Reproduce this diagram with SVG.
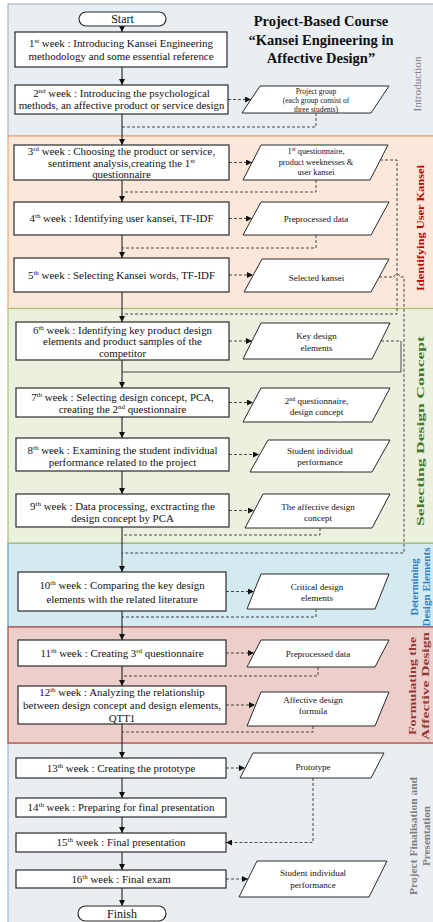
<svg xmlns="http://www.w3.org/2000/svg" width="433" height="922" viewBox="0 0 433 922">
<style>
.box{fill:#fff;stroke:#2a2a2a;stroke-width:1.2}
.par{fill:#fff;stroke:#2a2a2a;stroke-width:1}
.t{font-family:"Liberation Serif","Times New Roman",serif;font-size:10.9px;fill:#111;text-anchor:middle}
.p{font-family:"Liberation Serif","Times New Roman",serif;font-size:9px;fill:#111;text-anchor:middle}
.ps{font-family:"Liberation Serif","Times New Roman",serif;font-size:7.5px;fill:#111;text-anchor:middle}
.pm{font-family:"Liberation Serif","Times New Roman",serif;font-size:8.3px;fill:#111;text-anchor:middle}
.term{font-family:"Liberation Serif","Times New Roman",serif;font-size:12px;fill:#111;text-anchor:middle}
.title{font-family:"Liberation Serif","Times New Roman",serif;font-size:14.5px;font-weight:bold;fill:#111;text-anchor:middle}
.lab{font-family:"Liberation Serif","Times New Roman",serif;font-size:10.5px;font-weight:bold;text-anchor:middle}
.main{stroke:#111;stroke-width:1;fill:none}
.dash{stroke:#222;stroke-width:0.8;fill:none;stroke-dasharray:3,2}
.thin{stroke:#222;stroke-width:0.8;fill:none}
</style>
<defs>
<marker id="ah" viewBox="0 0 10 10" refX="10" refY="5" markerWidth="6" markerHeight="6" markerUnits="userSpaceOnUse" orient="auto"><path d="M0,0 L10,5 L0,10 z" fill="#111"/></marker>
</defs>

<g id="sections">
<rect id="sec-intro" x="8" y="4" width="440" height="132" fill="#e9eef3" stroke="#aab4be" stroke-width="1.2"/>
<rect id="sec-final" x="8" y="743" width="440" height="190" fill="#eaeef3" stroke="#98b7db" stroke-width="1.2"/>
<rect id="sec-determ" x="8" y="543" width="440" height="84" fill="#d3eaf1" stroke="#5b9bd5" stroke-width="1.2"/>
<rect id="sec-kansei" x="8" y="136" width="440" height="172.5" fill="#fbe8da" stroke="#f0a46c" stroke-width="1.2"/>
<rect id="sec-select" x="8" y="308.5" width="440" height="234.5" fill="#ebf0df" stroke="#a6c46d" stroke-width="1.2"/>
<rect id="sec-formul" x="8" y="627" width="440" height="116" fill="#eccfcb" stroke="#b5433f" stroke-width="1.2"/>
</g>

<g id="title">
<text class="title" x="321" y="26">Project-Based Course</text>
<text class="title" x="321" y="44.5">“Kansei Engineering in</text>
<text class="title" x="321" y="63">Affective Design”</text>
</g>

<g id="labels">
<text class="lab" style="font-weight:normal" fill="#7f7f7f" transform="translate(421,84) rotate(-90)" textLength="55" lengthAdjust="spacingAndGlyphs">Introduction</text>
<text class="lab" fill="#c00000" transform="translate(424,228) rotate(-90)" textLength="126" lengthAdjust="spacingAndGlyphs">Identifying User Kansei</text>
<text class="lab" fill="#3f7a2a" transform="translate(424,431) rotate(-90)" textLength="190" lengthAdjust="spacingAndGlyphs">Selecting Design Concept</text>
<text class="lab" fill="#2e7fc9" transform="translate(418,587) rotate(-90)" textLength="57" lengthAdjust="spacingAndGlyphs">Determining</text>
<text class="lab" fill="#2e7fc9" transform="translate(430,587) rotate(-90)" textLength="79" lengthAdjust="spacingAndGlyphs">Design Elements</text>
<text class="lab" fill="#953735" transform="translate(416,686) rotate(-90)" textLength="98" lengthAdjust="spacingAndGlyphs">Formulating the</text>
<text class="lab" fill="#953735" transform="translate(429,686) rotate(-90)" textLength="108" lengthAdjust="spacingAndGlyphs">Affective Design</text>
<text class="lab" fill="#7f7f7f" transform="translate(417,836) rotate(-90)" textLength="118" lengthAdjust="spacingAndGlyphs">Project Finalisation and</text>
<text class="lab" fill="#7f7f7f" transform="translate(430,836) rotate(-90)" textLength="60" lengthAdjust="spacingAndGlyphs">Presentation</text>
</g>

<g id="connectors">
<line class="main" x1="122" y1="26" x2="122" y2="32" marker-end="url(#ah)"/>
<line class="main" x1="122" y1="67" x2="122" y2="85" marker-end="url(#ah)"/>
<line class="main" x1="122" y1="114" x2="122" y2="145" marker-end="url(#ah)"/>
<line class="main" x1="122" y1="180" x2="122" y2="202" marker-end="url(#ah)"/>
<line class="main" x1="122" y1="235" x2="122" y2="258" marker-end="url(#ah)"/>
<line class="main" x1="122" y1="292" x2="122" y2="322" marker-end="url(#ah)"/>
<line class="main" x1="122" y1="360" x2="122" y2="388" marker-end="url(#ah)"/>
<line class="main" x1="122" y1="417" x2="122" y2="438" marker-end="url(#ah)"/>
<line class="main" x1="122" y1="471" x2="122" y2="494" marker-end="url(#ah)"/>
<line class="main" x1="122" y1="527" x2="122" y2="572" marker-end="url(#ah)"/>
<line class="main" x1="122" y1="611" x2="122" y2="640" marker-end="url(#ah)"/>
<line class="main" x1="122" y1="666" x2="122" y2="686" marker-end="url(#ah)"/>
<line class="main" x1="122" y1="724" x2="122" y2="758" marker-end="url(#ah)"/>
<line class="main" x1="122" y1="778" x2="122" y2="798" marker-end="url(#ah)"/>
<line class="main" x1="122" y1="817" x2="122" y2="833" marker-end="url(#ah)"/>
<line class="main" x1="122" y1="852" x2="122" y2="870" marker-end="url(#ah)"/>
<line class="main" x1="122" y1="888" x2="122" y2="906" marker-end="url(#ah)"/>

<line class="dash" x1="228" y1="99.5" x2="251" y2="99.5" marker-end="url(#ah)"/>
<line class="dash" x1="229" y1="162.5" x2="252" y2="162.5" marker-end="url(#ah)"/>
<line class="dash" x1="229" y1="218.5" x2="252" y2="218.5" marker-end="url(#ah)"/>
<line class="dash" x1="229" y1="275" x2="253" y2="275" marker-end="url(#ah)"/>
<line class="dash" x1="229" y1="341" x2="252" y2="341" marker-end="url(#ah)"/>
<line class="dash" x1="229" y1="402.5" x2="253" y2="402.5" marker-end="url(#ah)"/>
<line class="dash" x1="229" y1="454.5" x2="259" y2="454.5" marker-end="url(#ah)"/>
<line class="dash" x1="229" y1="510.5" x2="254" y2="510.5" marker-end="url(#ah)"/>
<line class="dash" x1="226" y1="591.5" x2="254" y2="591.5" marker-end="url(#ah)"/>
<line class="dash" x1="226" y1="653" x2="254" y2="653" marker-end="url(#ah)"/>
<line class="dash" x1="226" y1="705" x2="255" y2="705" marker-end="url(#ah)"/>
<line class="dash" x1="226" y1="768" x2="245" y2="768" marker-end="url(#ah)"/>
<line class="dash" x1="226" y1="879" x2="248" y2="879" marker-end="url(#ah)"/>

<path class="dash" d="M316,113 V127 H122"/>
<path class="dash" d="M316,180 V192 H122"/>
<path class="dash" d="M316,235 V248 H122"/>
<path class="dash" d="M320,528 V535 H122"/>
<path class="dash" d="M316,609 V617 H122"/>
<path class="dash" d="M318,667 V676 H122"/>
<path class="dash" d="M313,726 V732 H122"/>
<path class="dash" d="M313,778 V842.5 H226" marker-end="url(#ah)"/>

<path class="dash" d="M380,160 H397 V314 H122"/>
<path class="dash" d="M379,277 H394 A3,3 0 0 1 400,277 H404 V553 H122"/>
<path class="dash" d="M381,341 H401"/>
<path class="thin" d="M401,341 V372 H122"/>
</g>

<g id="start">
<rect x="79" y="12" width="87" height="14" rx="7" class="box"/>
<text class="term" x="122.5" y="23">Start</text>
</g>

<g id="w1">
<rect class="box" x="15" y="32" width="212" height="35"/>
<text class="t" x="121" y="46.5">1<tspan font-size="7" dy="-4">st</tspan><tspan dy="4"> week : Introducing Kansei Engineering</tspan></text>
<text class="t" x="121" y="59.5">methodology and some essential reference</text>
</g>

<g id="w2">
<rect class="box" x="15" y="85" width="213" height="29"/>
<text class="t" x="121.5" y="96.5">2<tspan font-size="7" dy="-4">nd</tspan><tspan dy="4"> week : Introducing the psychological</tspan></text>
<text class="t" x="121.5" y="108.5">methods, an affective product or service design</text>
</g>
<g id="o2">
<polygon class="par" points="260,86 389,86 371,113 242,113"/>
<text class="ps" x="316" y="93.5">Project group</text>
<text class="ps" x="316" y="103">(each group consist of</text>
<text class="ps" x="316" y="112">three students)</text>
</g>

<g id="w3">
<rect class="box" x="14" y="145" width="215" height="35"/>
<text class="t" x="121.5" y="154.5">3<tspan font-size="7" dy="-4">rd</tspan><tspan dy="4"> week : Choosing the product or service,</tspan></text>
<text class="t" x="121.5" y="166.5">sentiment analysis,creating the 1<tspan font-size="7" dy="-4">st</tspan></text>
<text class="t" x="121.5" y="178">questionnaire</text>
</g>
<g id="o3">
<polygon class="par" points="261,145 388,145 370,180 243,180"/>
<text class="pm" x="316" y="154">1<tspan font-size="6" dy="-3">st</tspan><tspan dy="3"> questionnaire,</tspan></text>
<text class="pm" x="316" y="165">product weeknesses &amp;</text>
<text class="pm" x="316" y="175">user kansei</text>
</g>

<g id="w4">
<rect class="box" x="14" y="202" width="215" height="33"/>
<text class="t" x="121.5" y="222">4<tspan font-size="7" dy="-4">th</tspan><tspan dy="4"> week : Identifying user kansei, TF-IDF</tspan></text>
</g>
<g id="o4">
<polygon class="par" points="261,202 389,202 371,235 243,235"/>
<text class="p" x="316" y="221.5">Preprocessed data</text>
</g>

<g id="w5">
<rect class="box" x="14" y="258" width="215" height="34"/>
<text class="t" x="121.5" y="279">5<tspan font-size="7" dy="-4">th</tspan><tspan dy="4"> week : Selecting Kansei words, TF-IDF</tspan></text>
</g>
<g id="o5">
<polygon class="par" points="262,259 389,259 371,292 244,292"/>
<text class="p" x="316.5" y="281">Selected kansei</text>
</g>

<g id="w6">
<rect class="box" x="16" y="322" width="213" height="38"/>
<text class="t" x="122.5" y="333.5">6<tspan font-size="7" dy="-4">th</tspan><tspan dy="4">  week : Identifying key product design</tspan></text>
<text class="t" x="122.5" y="345">elements and product samples of the</text>
<text class="t" x="122.5" y="356.5">competitor</text>
</g>
<g id="o6">
<polygon class="par" points="261,323 390,323 372,359 243,359"/>
<text class="p" x="316.5" y="339">Key design</text>
<text class="p" x="316.5" y="350.5">elements</text>
</g>

<g id="w7">
<rect class="box" x="16" y="388" width="213" height="29"/>
<text class="t" x="122.5" y="401">7<tspan font-size="7" dy="-4">th</tspan><tspan dy="4"> week : Selecting design concept, PCA,</tspan></text>
<text class="t" x="122.5" y="412.5">creating the 2<tspan font-size="7" dy="-4">nd</tspan><tspan dy="4"> questionnaire</tspan></text>
</g>
<g id="o7">
<polygon class="par" points="261,388 390,388 372,422 243,422"/>
<text class="p" x="316.5" y="403.5">2<tspan font-size="6" dy="-3">nd</tspan><tspan dy="3"> questionnaire,</tspan></text>
<text class="p" x="316.5" y="414.5">design concept</text>
</g>

<g id="w8">
<rect class="box" x="16" y="438" width="213" height="33"/>
<text class="t" x="122.5" y="454">8<tspan font-size="7" dy="-4">th</tspan><tspan dy="4">  week : Examining the student individual</tspan></text>
<text class="t" x="122.5" y="466">performance related to the project</text>
</g>
<g id="o8">
<polygon class="par" points="268,440 390,440 372,472 250,472"/>
<text class="p" x="320" y="454">Student individual</text>
<text class="p" x="320" y="465">performance</text>
</g>

<g id="w9">
<rect class="box" x="16" y="494" width="213" height="33"/>
<text class="t" x="122.5" y="510">9<tspan font-size="7" dy="-4">th</tspan><tspan dy="4"> week : Data processing, exctracting the</tspan></text>
<text class="t" x="122.5" y="521.5">design concept by PCA</text>
</g>
<g id="o9">
<polygon class="par" points="263,494 390,494 372,528 245,528"/>
<text class="p" x="318" y="509.5">The affective design</text>
<text class="p" x="318" y="520.5">concept</text>
</g>

<g id="w10">
<rect class="box" x="18" y="572" width="208" height="39"/>
<text class="t" x="122" y="589">10<tspan font-size="7" dy="-4">th</tspan><tspan dy="4"> week : Comparing the key design</tspan></text>
<text class="t" x="122" y="602.5">elements with the related literature</text>
</g>
<g id="o10">
<polygon class="par" points="261,574 389,574 375,609 247,609"/>
<text class="p" x="317" y="589.5">Critical design</text>
<text class="p" x="317" y="600.5">elements</text>
</g>

<g id="w11">
<rect class="box" x="18" y="640" width="208" height="26"/>
<text class="t" x="122" y="657">11<tspan font-size="7" dy="-4">th</tspan><tspan dy="4"> week : Creating 3</tspan><tspan font-size="7" dy="-4">rd</tspan><tspan dy="4"> questionnaire</tspan></text>
</g>
<g id="o11">
<polygon class="par" points="261,640 389,640 375,667 247,667"/>
<text class="p" x="318" y="656.5">Preprocessed data</text>
</g>

<g id="w12">
<rect class="box" x="18" y="686" width="208" height="38"/>
<text class="t" x="122" y="696">12<tspan font-size="7" dy="-4">th</tspan><tspan dy="4"> week : Analyzing the relationship</tspan></text>
<text class="t" x="122" y="709">between design concept and design elements,</text>
<text class="t" x="122" y="722">QTT1</text>
</g>
<g id="o12">
<polygon class="par" points="261,692 389,692 375,726 247,726"/>
<text class="p" x="313" y="703">Affective design</text>
<text class="p" x="313" y="713.5">formula</text>
</g>

<g id="w13">
<rect class="box" x="16" y="758" width="210" height="20"/>
<text class="t" x="121" y="771.5">13<tspan font-size="7" dy="-4">th</tspan><tspan dy="4"> week : Creating the prototype</tspan></text>
</g>
<g id="o13">
<polygon class="par" points="253,753 384,753 371,778 240,778"/>
<text class="p" x="313" y="770">Prototype</text>
</g>

<g id="w14">
<rect class="box" x="16" y="798" width="210" height="19"/>
<text class="t" x="121" y="811">14<tspan font-size="7" dy="-4">th</tspan><tspan dy="4"> week : Preparing for final presentation</tspan></text>
</g>

<g id="w15">
<rect class="box" x="16" y="833" width="210" height="19"/>
<text class="t" x="121" y="846">15<tspan font-size="7" dy="-4">th</tspan><tspan dy="4"> week : Final presentation</tspan></text>
</g>

<g id="w16">
<rect class="box" x="16" y="870" width="210" height="18"/>
<text class="t" x="121" y="882.5">16<tspan font-size="7" dy="-4">th</tspan><tspan dy="4"> week : Final exam</tspan></text>
</g>
<g id="o16">
<polygon class="par" points="257,861 387,861 369,897 239,897"/>
<text class="p" x="313" y="876">Student individual</text>
<text class="p" x="313" y="887.5">performance</text>
</g>

<g id="finish">
<rect x="78" y="906" width="88" height="15" rx="7.5" class="box"/>
<text class="term" x="122" y="918">Finish</text>
</g>
</svg>
